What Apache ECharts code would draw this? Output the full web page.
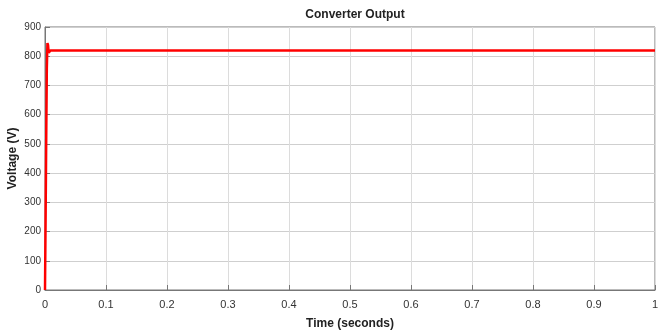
<!DOCTYPE html>
<html><head><meta charset="utf-8">
<script src="https://cdn.jsdelivr.net/npm/echarts@6/dist/echarts.min.js"></script>
<style>html,body{margin:0;padding:0;background:#fff}#c{width:666px;height:334px}</style>
</head><body><div id="c"></div>
<script>
const timeValues = [0, 0.001, 0.002, 0.003, 0.004, 0.005, 0.006, 0.007, 0.009, 0.02, 0.1, 0.2, 0.3, 0.4, 0.5, 0.6, 0.7, 0.8, 0.9, 1.0];
const voltageValues = [0, 250, 520, 760, 845, 838, 812, 818, 820, 820, 820, 820, 820, 820, 820, 820, 820, 820, 820, 820];
const xTicks = [0, 0.1, 0.2, 0.3, 0.4, 0.5, 0.6, 0.7, 0.8, 0.9, 1];
const yTicks = [0, 100, 200, 300, 400, 500, 600, 700, 800, 900];

const fontFam = '"Liberation Sans Narrow", "Arial Narrow", "Liberation Sans", Arial, sans-serif';
const chart = echarts.init(document.getElementById('c'), null, {renderer: 'canvas'});
chart.setOption({
  animation: false,
  backgroundColor: '#ffffff',
  title: {
    text: 'Converter Output', left: 350, top: 4, textAlign: 'center',
    textStyle: {fontFamily: fontFam, fontSize: 12, fontWeight: 'bold', color: '#222'}
  },
  grid: {left: 45, right: 11, top: 27, bottom: 44, containLabel: false, outerBoundsMode: 'none',
         show: true, borderColor: '#777', borderWidth: 1},
  xAxis: {
    type: 'value', min: 0, max: 1, interval: 0.1,
    name: 'Time (seconds)', nameLocation: 'middle', nameGap: 28, nameMoveOverlap: false,
    nameTextStyle: {fontFamily: fontFam, fontSize: 12, fontWeight: 'bold', color: '#222'},
    axisLine: {show: true, lineStyle: {color: '#777'}},
    axisTick: {show: true, inside: true, length: 5, lineStyle: {color: '#777'}},
    axisLabel: {fontFamily: fontFam, fontSize: 11, color: '#333', margin: 9,
      formatter: v => { const t = xTicks.find(x => Math.abs(x - v) < 1e-9); return t === undefined ? '' : String(t); }},
    splitLine: {show: true, lineStyle: {color: '#dcdcdc', width: 1}}
  },
  yAxis: {
    type: 'value', min: 0, max: 900, interval: 100,
    name: 'Voltage (V)', nameLocation: 'middle', nameGap: 26, nameMoveOverlap: false,
    nameTextStyle: {fontFamily: fontFam, fontSize: 12, fontWeight: 'bold', color: '#222'},
    axisLine: {show: true, lineStyle: {color: '#777'}},
    axisTick: {show: true, inside: true, length: 5, lineStyle: {color: '#777'}},
    axisLabel: {fontFamily: fontFam, fontSize: 10, color: '#333', margin: 4,
      formatter: v => yTicks.includes(v) ? String(v) : ''},
    splitLine: {show: true, lineStyle: {color: '#cfcfcf', width: 1}}
  },
  series: [{
    type: 'line', showSymbol: false, symbol: 'none',
    data: timeValues.map((t, i) => [t, voltageValues[i]]),
    lineStyle: {color: '#ff0000', width: 2.5},
    itemStyle: {color: '#ff0000'}
  }]
});
</script></body></html>
